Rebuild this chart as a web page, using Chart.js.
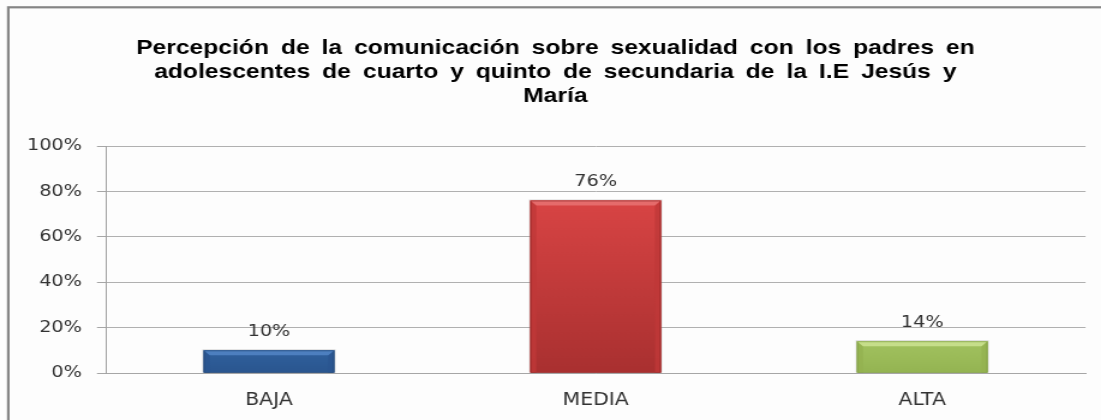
<!DOCTYPE html>
<html><head><meta charset="utf-8">
<script src="https://cdn.jsdelivr.net/npm/chart.js@4.4.0/dist/chart.umd.min.js"></script>
<style>
html,body{margin:0;padding:0;background:#fdfdfd;overflow:hidden;width:1101px;height:420px;}
#wrap{position:absolute;left:0;top:0;width:917px;height:420px;transform:scaleX(1.2007);transform-origin:0 0;}
</style></head><body>
<div id="wrap"><canvas id="c"></canvas></div>
<script>
const categories = ['BAJA', 'MEDIA', 'ALTA'];
const values = [10, 76, 14];
const yTicks = [0, 20, 40, 60, 80, 100];
const titleLines = [
  'Percepción de la comunicación sobre sexualidad con los padres en',
  'adolescentes de cuarto y quinto de secundaria de la I.E Jesús y',
  'María'
];
const barColors = ['#30609d', '#d84444', '#a2c25f'];
const barBottom = ['#2a568f', '#a93030', '#94b452'];
const bevelTop = ['#4d7fbf', '#e56b6b', '#c6de8a'];
const bevelSide = ['#2a5590', '#bf3838', '#93b250'];
const edgeColors = ['#1f4272', '#8e2626', '#7d9a42'];

const framePlugin = {
  id: 'frame',
  beforeDraw(chart) {
    const ctx = chart.ctx;
    ctx.save();
    ctx.fillStyle = '#fdfdfd';
    ctx.fillRect(0, 0, chart.width, chart.height);
    ctx.strokeStyle = '#858585';
    ctx.lineWidth = 2.2;
    ctx.strokeRect(6.9, 7.3, chart.width + 20, chart.height + 20);
    ctx.restore();
    ctx.wordSpacing = '4.3px';
  },
  beforeDatasetsDraw(chart) {
    chart.ctx.wordSpacing = '0px';
  }
};

const bevelPlugin = {
  id: 'bevel',
  afterDatasetsDraw(chart) {
    const ctx = chart.ctx;
    const meta = chart.getDatasetMeta(0);
    meta.data.forEach((el, i) => {
      const p = el.getProps(['x', 'y', 'base', 'width'], true);
      const l = p.x - p.width / 2, r = p.x + p.width / 2, t = p.y, b = p.base;
      const bv = Math.min(5, (b - t) / 3);
      ctx.save();
      ctx.fillStyle = 'rgba(150,150,150,0.35)';
      ctx.fillRect(l - 1, t - 1, r - l + 2, b - t + 1);
      const g = ctx.createLinearGradient(0, t, 0, b);
      g.addColorStop(0, barColors[i]);
      g.addColorStop(1, barBottom[i]);
      ctx.fillStyle = g;
      ctx.fillRect(l, t, r - l, b - t);
      ctx.fillStyle = bevelSide[i];
      ctx.globalAlpha = 0.8;
      ctx.beginPath();
      ctx.moveTo(l, t); ctx.lineTo(l + bv, t + bv); ctx.lineTo(l + bv, b); ctx.lineTo(l, b); ctx.closePath();
      ctx.fill();
      ctx.beginPath();
      ctx.moveTo(r, t); ctx.lineTo(r - bv, t + bv); ctx.lineTo(r - bv, b); ctx.lineTo(r, b); ctx.closePath();
      ctx.fill();
      ctx.globalAlpha = 1;
      ctx.fillStyle = bevelTop[i];
      ctx.beginPath();
      ctx.moveTo(l, t); ctx.lineTo(r, t); ctx.lineTo(r - bv, t + bv); ctx.lineTo(l + bv, t + bv); ctx.closePath();
      ctx.fill();
      ctx.strokeStyle = edgeColors[i];
      ctx.globalAlpha = 0.6;
      ctx.lineWidth = 1;
      ctx.strokeRect(l + 0.5, t + 0.5, r - l - 1, b - t - 0.5);
      ctx.restore();
    });
  },
  afterDraw(chart) {
    const ctx = chart.ctx;
    const meta = chart.getDatasetMeta(0);
    ctx.save();
    ctx.font = '16px "DejaVu Sans"';
    ctx.fillStyle = '#333333';
    ctx.textAlign = 'center';
    ctx.textBaseline = 'alphabetic';
    meta.data.forEach((el, i) => {
      const p = el.getProps(['x', 'y'], true);
      ctx.fillText(values[i] + '%', p.x, p.y - 14.5);
    });
    ctx.restore();
  }
};

new Chart(document.getElementById('c'), {
  type: 'bar',
  data: {
    labels: categories,
    datasets: [{
      data: values,
      backgroundColor: barColors,
      borderWidth: 0,
      barPercentage: 0.4,
      categoryPercentage: 1.0
    }]
  },
  options: {
    responsive: true,
    maintainAspectRatio: false,
    animation: false,
    layout: { padding: { left: 21, right: 12.9, top: 0, bottom: 0 } },
    plugins: {
      legend: { display: false },
      tooltip: { enabled: false },
      title: {
        display: true,
        text: titleLines,
        color: '#000000',
        font: { family: '"Liberation Sans", Arial, sans-serif', size: 20.5, weight: 'bold', lineHeight: '24px' },
        padding: { top: 35.9, bottom: 38.1 }
      }
    },
    scales: {
      x: {
        grid: { display: false, drawTicks: false },
        border: { display: true, color: '#a6a6a6', width: 1 },
        ticks: { color: '#333333', font: { family: '"DejaVu Sans"', size: 17 }, padding: 17 },
        afterFit(scale) { scale.height = 47; }
      },
      y: {
        min: 0,
        max: 100,
        afterBuildTicks(scale) { scale.ticks = yTicks.map(v => ({ value: v })); },
        grid: { color: '#b0b0b0', tickColor: '#a6a6a6', tickLength: 7.25, lineWidth: 1 },
        border: { display: true, color: '#a0a0a0', width: 1 },
        ticks: { color: '#333333', font: { family: '"DejaVu Sans"', size: 16 }, padding: 12.5, callback: v => v + '%' },
        afterFit(scale) { scale.width = 67; }
      }
    }
  },
  plugins: [framePlugin, bevelPlugin]
});
</script>
</body></html>
